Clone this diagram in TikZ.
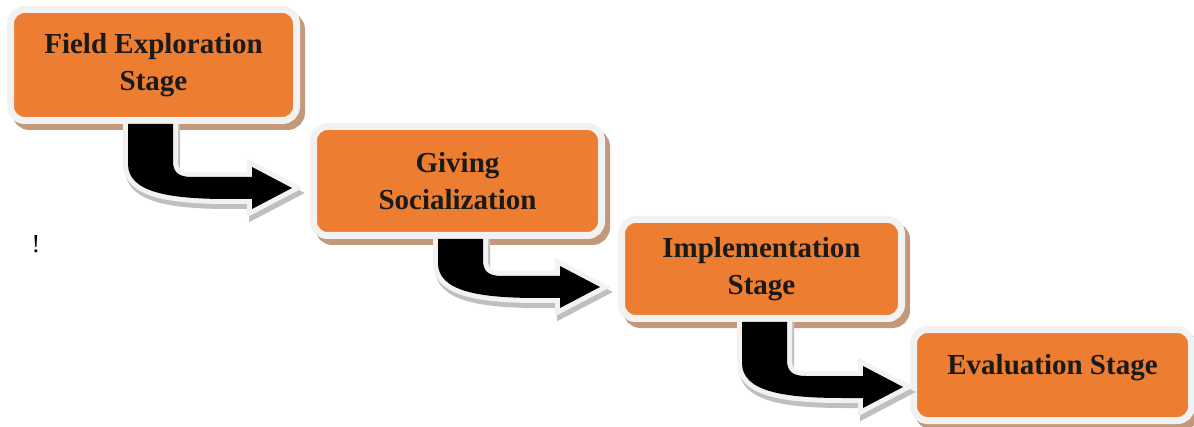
\documentclass[tikz,border=0pt]{standalone}
\usepackage{fontspec}
\setmainfont{Liberation Serif}
\usepackage{tikz}
\usetikzlibrary{calc}
\definecolor{stagecolor}{RGB}{237,125,49}
\definecolor{rimcolor}{RGB}{242,242,242}
\definecolor{boxshadecolor}{RGB}{196,152,122}
\definecolor{arrowshadecolor}{RGB}{191,191,191}
\definecolor{labelcolor}{RGB}{26,26,26}

% bent arrow from the bottom of one stage to the side of the next
\newcommand{\bentarrow}[2]{%
  \foreach \sty in {arrshadow, arrrim, arrbody}{%
    \path[\sty] let \p1=#1, \p2=#2 in
      (\x1,\y1) -- (\x1,\y2+12pt)
      .. controls (\x1,\y2-2pt) and (\x1+20pt,\y2-5.5pt) .. (\x1+50pt,\y2-5.5pt)
      -- (\x2-20pt,\y2-5.5pt) -- (\x2-20pt,\y2-10.5pt) -- (\x2,\y2)
      -- (\x2-20pt,\y2+10.5pt) -- (\x2-20pt,\y2+5.5pt) -- (\x1+32pt,\y2+5.5pt)
      .. controls (\x1+25pt,\y2+5.5pt) and (\x1+22.5pt,\y2+8pt) .. (\x1+22.5pt,\y2+13.5pt)
      -- (\x1+22.5pt,\y1) -- cycle;
  }%
}

\begin{document}
\begin{tikzpicture}[
    x=0.5pt, y=-0.5pt,
    stagebox/.style={draw=rimcolor, line width=3.5pt, fill=stagecolor, rounded corners=7pt,
        font=\fontsize{14.5}{18.5}\selectfont\bfseries, text=labelcolor, align=center,
        preaction={fill=boxshadecolor, draw=boxshadecolor, transform canvas={shift={(2.5pt,-3pt)}}}},
    arrshadow/.style={fill=arrowshadecolor, draw=arrowshadecolor, line width=5pt, transform canvas={shift={(1pt,-2.5pt)}}},
    arrrim/.style={fill=rimcolor, draw=rimcolor, line width=5pt},
    arrbody/.style={fill=black}
]
    \useasboundingbox (0,0) rectangle (1194,427);

    % Stages
    \node[stagebox, minimum width=143pt, minimum height=55.5pt] (field) at (153.5,65) {Field Exploration\\Stage};
    \node[stagebox, minimum width=144pt, minimum height=54.5pt] (social) at (457.5,181) {Giving\\Socialization};
    \node[stagebox, minimum width=140pt, minimum height=49.5pt] (implement) at (761.5,269) {Implementation\\Stage};
    \node[stagebox, minimum width=139pt, minimum height=45.5pt, text depth=10.3pt] (evaluate) at (1052.5,375) {Evaluation Stage};

    % Stray mark
    \node[font=\fontsize{13}{15}\selectfont] (mark) at (36,244) {!};

    % Arrows between stages
    \bentarrow{($(field.south west)+(121,0)$)}{($(social.west)+(-18,7)$)}
    \bentarrow{($(social.south west)+(128,0)$)}{($(implement.west)+(-18,18)$)}
    \bentarrow{($(implement.south west)+(124,0)$)}{($(evaluate.west)+(-7,12)$)}

\end{tikzpicture}
\end{document}
